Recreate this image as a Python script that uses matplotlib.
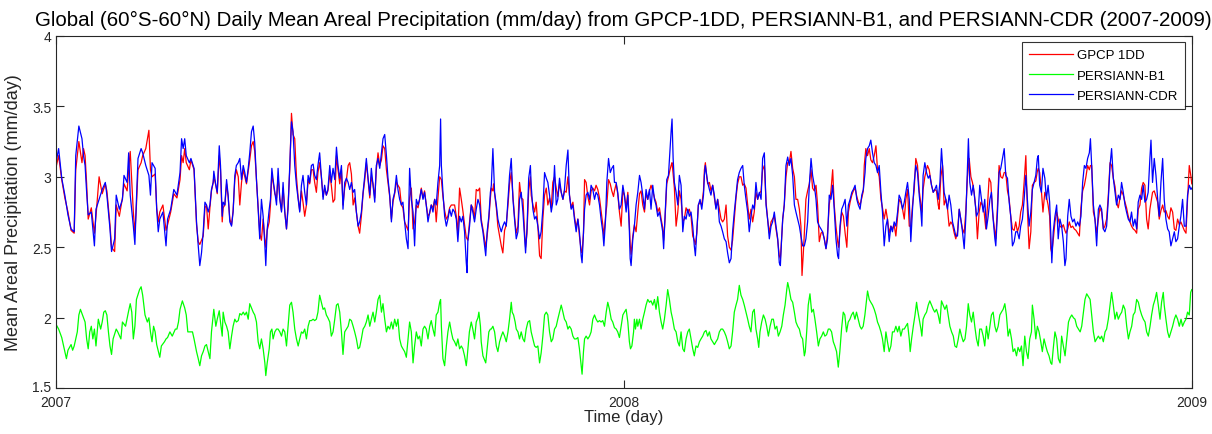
import matplotlib
matplotlib.use('Agg')
import matplotlib.pyplot as plt
import matplotlib.transforms as mtransforms

# ---------------- data (days since 2007-01-01, mm/day) ----------------
cdr_day = [0, 2, 4, 6, 8, 10, 12, 13, 15, 17, 18, 19, 20, 21, 23, 25, 26, 28, 30, 32, 33, 35, 36, 38, 39, 41, 43, 44, 46, 47, 48, 50, 51, 52, 53, 55, 56, 58, 60, 61, 62, 64, 65, 66, 67, 69, 71, 72, 74, 76, 78, 80, 81, 82, 83, 84, 86, 87, 89,
    90.6, 91.7, 92.7, 93.8, 94.9, 96, 97, 98.1, 99.2, 100.2, 101.3, 101.7, 103, 103.9, 105.2, 106, 107.1, 107.7, 108.8, 109.9, 110.9, 112, 113.1, 114.1, 115.2, 116.2, 117.4, 118.4, 119.5, 120.6, 121.6, 122.7, 123.8, 124.8, 125.9, 127, 128, 129.1, 130.2, 131.2, 132.3, 133.4, 134.5, 135.1, 136, 137.3, 138.1, 139, 139.8, 140.9, 142, 143, 144.1, 145.2, 146.2, 147.3, 148.4, 149.4, 150.5, 151.6, 152.6, 153.7, 154.8, 155.9, 156.9, 158, 159, 160.1, 161.2, 162.3, 163.3, 164.4, 165.5, 166.5, 167.6, 168.6, 169.7, 170.8, 171.9, 172.9, 174, 175, 176.2, 177.2, 178.3, 179.4,
    180.5, 181.5, 182.6, 183.7, 184.7, 185.8, 186.9, 188, 189, 190.1, 191.2, 192.2, 193.3, 194.4, 195.4, 196.5, 197.6, 198.7, 199.7, 200.8, 201.9, 202.9, 204, 205.1, 206.1, 207.2, 208.3, 209.4, 210.4, 211.5, 212.6, 213.6, 214.7, 215.8, 216.8, 217.9, 219, 220, 221.1, 222.2, 223.2, 224.3, 225.4, 226.5, 227, 227.5, 228.6, 229.7, 230.7, 231.8, 232.9, 233.9, 235, 236.1, 237.1, 238.2, 239.3, 240.4, 241.4, 242.5, 243.6, 244.6, 245.7, 246.8, 247.4, 247.9, 248.9, 250, 251.1, 252.1, 253.2, 254.3, 255.3, 256.4, 257.5, 258.5, 259.6, 260.7, 261.7, 262.8, 263.9, 264.4, 264.9, 266, 267.1, 268.1, 269.2,
    270.3, 271.4, 272.5, 273.5, 274.6, 275.7, 276.4, 277.3, 278.4, 279.4, 280, 281, 281.4, 282.1, 283.2, 284.2, 285.3, 286.4, 287.4, 288.5, 289.6, 290.7, 291.7, 292.8, 293.9, 294.9, 296, 297.1, 298.1, 299.2, 300.3, 301.3, 302, 302.9, 304, 305.1, 305.6, 306.7, 307.8, 308.8, 309.9, 311, 312, 313.1, 314.2, 315.3, 316.3, 317.4, 318.5, 319.5, 320.6, 321.7, 322.7, 323.8, 324.9, 326, 327, 328.1, 329.2, 330.2, 331.3, 332.4, 333.4, 334.5, 335.6, 336.6, 337.7, 338.3, 339.2, 339.9, 340.9, 342, 343.1, 344.1, 345.2, 346.3, 347.3, 348.4, 349.5, 350.5, 351.6, 352.3, 353.4, 354.2, 355.3, 356.4, 357.4, 358.5, 359.1,
    360.2, 361.2, 362.3, 363.4, 364.5, 365.5, 366.6, 367.7, 368.7, 369.2, 369.8, 370.9, 371.9, 373, 374.1, 375.2, 376.2, 377.3, 378.4, 379.4, 380.5, 381.6, 382.6, 383.7, 384.8, 385.8, 386.9, 388, 389.1, 390.1, 390.7, 391.6, 392.7, 393.8, 394.8, 395.5, 396.1, 396.8, 397.6, 398.7, 399.8, 400.8, 401.9, 403, 404, 405.1, 406.2, 407.2, 408.3, 409.4, 410.4, 411.1, 412, 413, 414.1, 415.2, 416.3, 416.9, 417.5, 418.4, 419, 420.1, 421.1, 422.2, 423.3, 424.3, 425.4, 426.5, 427.6, 428.6, 429.7, 430.8, 431.8, 432.9, 434, 435, 436.1, 437.2, 438.2, 439.3, 440.4, 441.5, 442.5, 443.6, 444.7, 445.7, 446.8, 447.9, 448.9,
    450, 451.1, 452.2, 453.3, 454.3, 455.4, 456.5, 457.5, 458.6, 459.7, 460.7, 461.8, 462.9, 464, 465, 465.7, 466.5, 467.2, 468.2, 469.3, 470.4, 471.4, 472.5, 473.6, 474.7, 475.7, 476.8, 477.9, 478.9, 480, 481.1, 482.1, 483.2, 484.3, 485.4, 486.4, 487.5, 488.6, 489.6, 490.7, 491.8, 492.8, 493.9, 495, 496, 497.1, 498.2, 499.3, 500.3, 501.4, 502.5, 503.1, 504, 505.1, 506.2, 507.3, 508.4, 509.4, 510.5, 511.6, 512.6, 513.7, 514.8, 515.8, 516.9, 518, 519, 520.1, 520.6, 521.7, 522.8, 523.8, 524.9, 526, 527.1, 528.1, 529.2, 530.3, 531.3, 532.4, 533.5, 534.5, 535.6, 536.7, 537.7, 538.8,
    539.9, 541, 542, 543.1, 544.2, 545.3, 546.3, 547.4, 548.5, 549.5, 550.6, 551.7, 552.7, 553.8, 554.9, 556, 556.6, 557.4, 558.5, 559.6, 560.7, 561.7, 562.8, 563.9, 564.9, 566, 567.1, 568.2, 569.2, 569.9, 570.9, 572, 573.1, 574.1, 575.2, 576.3, 577.4, 578.4, 579.5, 580.6, 581.6, 582.7, 583.8, 584.8, 585.9, 586.5, 587.4, 588.5, 589.6, 590.6, 591.7, 592.8, 593.8, 594.9, 596, 597, 598.1, 599.2, 600.3, 601.3, 602.4, 603.5, 604.1, 605.2, 606.2, 607.3, 608.4, 609.5, 610.5, 611.6, 612.7, 613.7, 614.8, 615.9, 616.9, 618, 619.1, 620.1, 621.2, 622.3, 623.4, 624.4, 625.5, 626.6, 627.6, 628.7,
    629.8, 630.8, 631.4, 632.3, 633.4, 634.4, 635.6, 636.6, 637.7, 638.7, 639.4, 640.1, 641, 642.1, 643.2, 644.2, 645.3, 646.4, 647.5, 648.5, 649.2, 650.3, 651.3, 652.4, 653.5, 654.5, 655.6, 656.7, 657.8, 658.8, 659.9, 661, 662, 663.1, 664.2, 664.9, 665.7, 666.8, 667.8, 668.9, 670, 671, 672.1, 673.2, 674.2, 675.3, 676.4, 677.5, 678.5, 679.6, 680.7, 681.7, 682.8, 683.9, 684.9, 686, 687.1, 688.1, 689.2, 690.3, 691.3, 692.4, 693.5, 694.6, 695.6, 696.7, 697.8, 698.8, 699.9, 701, 702, 703.1, 703.8, 704.8, 705.9, 707, 708.1, 709.1, 710.2, 711.3, 712.3, 713.4, 714.5, 715.5, 716.6, 717.7, 718.8, 719.8, 720.9, 722, 723, 724.1, 725.2, 726.3, 727.3, 728.4, 729.5, 730]
cdr_val = [3.08, 3.20, 2.99, 2.87, 2.73, 2.63, 2.61, 3.15, 3.36, 3.27, 3.15, 3.08, 2.89, 2.73, 2.75, 2.51, 2.77, 2.84, 2.91, 2.96, 2.87, 2.63, 2.47, 2.56, 2.87, 2.77, 2.84, 3.01, 2.96, 3.17, 2.87, 2.65, 2.52, 2.84, 3.13, 3.20, 3.17, 3.08, 3.01, 2.87, 3.10, 3.06, 2.77, 2.61, 2.70, 2.75, 2.51, 2.70, 2.77, 2.91, 2.87, 3.03, 3.27, 3.20, 3.27, 3.15, 3.10, 3.13, 3.06,
    2.68, 2.51, 2.37, 2.46, 2.61, 2.82, 2.80, 2.75, 2.80, 2.91, 2.96, 3.04, 2.94, 2.89, 3.22, 3.08, 2.72, 2.82, 2.80, 2.98, 2.87, 2.68, 2.65, 2.75, 3.01, 3.08, 3.10, 3.13, 2.98, 3.08, 3.03, 2.96, 3.06, 3.17, 3.32, 3.36, 3.24, 2.98, 2.77, 2.56, 2.84, 2.72, 2.51, 2.37, 2.63, 2.77, 2.84, 3.06, 2.98, 2.89, 2.80, 3.06, 2.84, 2.75, 2.96, 2.75, 2.63, 2.77, 3.08, 3.39, 3.32, 3.08, 2.94, 2.84, 2.75, 2.94, 3.01, 2.89, 2.80, 3.01, 2.96, 3.08, 3.09, 3.01, 2.98, 3.08, 3.17, 3.01, 2.84, 2.94, 2.87, 2.91, 3.08, 2.96, 3.06, 2.98,
    3.21, 3.08, 2.99, 3.08, 2.77, 2.96, 2.99, 2.96, 2.91, 2.96, 2.89, 2.91, 2.75, 2.65, 2.68, 2.75, 2.89, 3.01, 3.13, 2.99, 2.87, 3.06, 2.94, 2.82, 3.08, 3.13, 3.06, 3.17, 3.27, 3.30, 3.15, 2.99, 2.87, 2.68, 2.84, 2.89, 3.01, 2.91, 2.84, 2.80, 2.82, 2.68, 2.56, 2.49, 2.80, 3.06, 2.84, 2.75, 2.51, 2.84, 2.80, 2.84, 2.91, 2.84, 2.89, 2.80, 2.68, 2.75, 2.80, 2.75, 2.84, 2.80, 2.96, 3.08, 3.41, 3.08, 2.89, 2.72, 2.65, 2.70, 2.77, 2.72, 2.77, 2.75, 2.70, 2.54, 2.72, 2.68, 2.72, 2.61, 2.39, 2.32, 2.54, 2.65, 2.80, 2.75, 2.68,
    2.77, 2.84, 2.80, 2.68, 2.61, 2.51, 2.44, 2.61, 2.72, 2.89, 2.94, 3.20, 3.08, 2.89, 2.80, 2.70, 2.65, 2.61, 2.65, 2.68, 2.65, 2.84, 3.01, 3.13, 2.84, 2.70, 2.56, 2.61, 2.84, 2.89, 2.75, 2.58, 2.46, 2.63, 2.99, 3.08, 2.94, 2.77, 2.70, 2.72, 2.65, 2.56, 2.61, 2.77, 3.03, 2.99, 2.96, 2.87, 2.75, 2.82, 3.08, 2.80, 2.84, 2.99, 2.89, 2.84, 2.91, 3.08, 3.19, 2.87, 2.77, 2.80, 2.70, 2.61, 2.70, 2.61, 2.44, 2.39, 2.61, 2.77, 2.87, 2.89, 2.84, 2.94, 2.91, 2.84, 2.89, 2.87, 2.80, 2.70, 2.61, 2.51, 2.70, 2.96, 3.13, 3.03, 3.06, 3.08, 2.96,
    2.96, 2.89, 2.77, 2.80, 2.94, 2.87, 2.75, 2.87, 2.61, 2.42, 2.37, 2.56, 2.65, 2.80, 2.89, 3.01, 2.96, 2.87, 2.77, 2.91, 2.84, 2.91, 2.77, 2.94, 2.84, 2.80, 2.72, 2.75, 2.68, 2.61, 2.49, 2.72, 2.98, 3.01, 3.20, 3.32, 3.41, 3.13, 2.96, 2.89, 2.80, 3.01, 2.94, 2.61, 2.72, 2.70, 2.77, 2.72, 2.75, 2.65, 2.51, 2.44, 2.61, 2.80, 2.84, 2.77, 2.87, 3.01, 3.08, 3.01, 2.96, 2.91, 2.87, 2.94, 2.87, 2.77, 2.84, 2.68, 2.65, 2.61, 2.56, 2.54, 2.46, 2.39, 2.42, 2.61, 2.75, 2.87, 2.98, 3.03, 3.06, 3.08, 2.94, 2.84, 2.75, 2.61, 2.72, 2.80, 2.77,
    2.96, 2.84, 2.89, 2.84, 3.13, 3.17, 2.80, 2.70, 2.56, 2.65, 2.68, 2.75, 2.65, 2.56, 2.39, 2.37, 2.56, 2.70, 2.80, 3.08, 3.14, 3.08, 3.13, 3.01, 2.80, 2.75, 2.70, 2.65, 2.58, 2.51, 2.51, 2.56, 2.68, 2.94, 3.13, 3.01, 2.94, 2.84, 2.68, 2.65, 2.63, 2.61, 2.56, 2.49, 2.56, 2.87, 2.84, 2.94, 2.77, 2.56, 2.44, 2.42, 2.65, 2.77, 2.80, 2.84, 2.65, 2.80, 2.84, 2.89, 2.91, 2.94, 2.84, 2.80, 2.77, 2.87, 2.91, 3.03, 3.13, 3.20, 3.22, 3.26, 3.17, 3.10, 3.08, 3.03, 3.08, 2.89, 2.75, 2.51, 2.65, 2.70, 2.54, 2.65, 2.61, 2.68,
    2.65, 2.75, 2.87, 2.84, 2.77, 2.82, 2.89, 2.96, 2.84, 2.54, 2.77, 2.96, 3.08, 3.03, 2.87, 2.75, 2.65, 3.01, 3.10, 3.03, 2.99, 3.01, 2.94, 2.89, 2.91, 2.94, 2.84, 2.96, 3.20, 3.08, 2.89, 2.84, 2.77, 2.87, 2.80, 2.68, 2.63, 2.58, 2.58, 2.77, 2.70, 2.61, 2.49, 2.70, 3.08, 3.27, 2.96, 2.87, 2.94, 2.84, 2.72, 2.75, 2.94, 2.84, 2.75, 2.84, 2.63, 2.72, 2.84, 2.89, 2.70, 2.56, 2.51, 2.75, 3.03, 3.06, 3.13, 3.20, 3.01, 2.99, 2.82, 2.72, 2.51, 2.54, 2.61, 2.61, 2.56, 2.65, 2.70, 2.84, 3.01, 2.84, 2.65, 2.75, 2.91, 2.96,
    3.01, 3.13, 3.15, 2.94, 2.89, 3.06, 2.99, 2.84, 2.94, 2.82, 2.61, 2.39, 2.61, 2.72, 2.80, 2.56, 2.70, 2.65, 2.54, 2.37, 2.42, 2.72, 2.84, 2.72, 2.68, 2.70, 2.65, 2.68, 2.65, 2.72, 2.96, 3.08, 3.06, 3.13, 3.17, 3.27, 3.08, 2.80, 2.70, 2.51, 2.77, 2.80, 2.77, 2.63, 2.61, 2.65, 2.84, 3.08, 3.20, 2.99, 2.89, 2.80, 2.87, 2.84, 2.96, 2.89, 2.80, 2.75, 2.70, 2.68, 2.75, 2.65, 2.70, 2.63, 2.82, 2.87, 2.84, 2.94, 2.82, 2.84, 2.89, 3.13, 3.26, 2.96, 3.13, 3.01, 2.84, 2.72, 2.96, 3.13, 2.84, 2.70, 2.63, 2.61, 2.51, 2.56, 2.61, 2.54, 2.56, 2.65, 2.72, 2.84, 2.65, 2.65, 2.87, 2.94, 2.91, 2.92]

gpcp_day = [0, 2, 4, 6, 8, 10, 12, 13, 15, 17, 18, 19, 20, 21, 23, 25, 26, 28, 30, 32, 33, 35, 36, 38, 39, 41, 43, 44, 46, 47, 48, 50, 51, 52, 53, 55, 56, 58, 60, 61, 62, 64, 65, 66, 67, 69, 71, 72, 74, 76, 78, 80, 81, 82, 83, 84, 86, 87, 89,
    90.6, 91.7, 92.7, 93.8, 94.9, 96, 97, 98.1, 99.2, 100.2, 101.3, 101.7, 103, 103.9, 105.2, 106, 107.1, 107.7, 108.8, 109.9, 110.9, 112, 113.1, 114.1, 115.2, 116.2, 117.4, 118.4, 119.5, 120.6, 121.6, 122.7, 123.8, 124.8, 125.9, 127, 128, 129.1, 130.2, 131.2, 132.3, 133.4, 134.5, 135.1, 136, 137.3, 138.1, 139, 139.8, 140.9, 142, 143, 144.1, 145.2, 146.2, 147.3, 148.4, 149.4, 150.5, 151.6, 152.6, 153.7, 154.8, 155.9, 156.9, 158, 159, 160.1, 161.2, 162.3, 163.3, 164.4, 165.5, 166.5, 167.6, 168.6, 169.7, 170.8, 171.9, 172.9, 174, 175, 176.2, 177.2, 178.3, 179.4,
    180.5, 181.5, 182.6, 183.7, 184.7, 185.8, 186.9, 188, 189, 190.1, 191.2, 192.2, 193.3, 194.4, 195.4, 196.5, 197.6, 198.7, 199.7, 200.8, 201.9, 202.9, 204, 205.1, 206.1, 207.2, 208.3, 209.4, 210.4, 211.5, 212.6, 213.6, 214.7, 215.8, 216.8, 217.9, 219, 220, 221.1, 222.2, 223.2, 224.3, 225.4, 226.5, 227.5, 228.6, 229.7, 230.7, 231.8, 232.9, 233.9, 235, 236.1, 237.1, 238.2, 239.3, 240.4, 241.4, 242.5, 243.6, 244.6, 245.7, 246.8, 247.9, 248.9, 250, 251.1, 252.1, 253.2, 254.3, 255.3, 256.4, 257.5, 258.5, 259.6, 260.7, 261.7, 262.8, 263.9, 264.9, 266, 267.1, 268.1, 269.2,
    270.3, 271.4, 272.5, 273.5, 274.6, 275.7, 276.4, 277.3, 278.4, 279.4, 280, 281, 281.4, 282.1, 283.2, 284.2, 285.3, 286.4, 287.4, 288.5, 289.6, 290.7, 291.7, 292.8, 293.9, 294.9, 296, 297.1, 298.1, 299.2, 300.3, 301.3, 302, 302.9, 304, 305.1, 305.6, 306.7, 307.8, 308.8, 309.9, 311, 312, 313.1, 314.2, 315.3, 316.3, 317.4, 318.5, 319.5, 320.6, 321.7, 322.7, 323.8, 324.9, 326, 327, 328.1, 329.2, 330.2, 331.3, 332.4, 333.4, 334.5, 335.6, 336.6, 337.7, 338.3, 339.2, 339.9, 340.9, 342, 343.1, 344.1, 345.2, 346.3, 347.3, 348.4, 349.5, 350.5, 351.6, 352.3, 353.4, 354.2, 355.3, 356.4, 357.4, 358.5, 359.1,
    360.2, 361.2, 362.3, 363.4, 364.5, 365.5, 366.6, 367.7, 368.7, 369.2, 369.8, 370.9, 371.9, 373, 374.1, 375.2, 376.2, 377.3, 378.4, 379.4, 380.5, 381.6, 382.6, 383.7, 384.8, 385.8, 386.9, 388, 389.1, 390.1, 390.7, 391.6, 392.7, 393.8, 394.8, 395.5, 396.1, 396.8, 397.6, 398.7, 399.8, 400.8, 401.9, 403, 404, 405.1, 406.2, 407.2, 408.3, 409.4, 410.4, 411.1, 412, 413, 414.1, 415.2, 416.3, 416.9, 417.5, 418.4, 419, 420.1, 421.1, 422.2, 423.3, 424.3, 425.4, 426.5, 427.6, 428.6, 429.7, 430.8, 431.8, 432.9, 434, 435, 436.1, 437.2, 438.2, 439.3, 440.4, 441.5, 442.5, 443.6, 444.7, 445.7, 446.8, 447.9, 448.9,
    450, 451.1, 452.2, 453.3, 454.3, 455.4, 456.5, 457.5, 458.6, 459.7, 460.7, 461.8, 462.9, 464, 465, 465.7, 466.5, 467.2, 468.2, 469.3, 470.4, 471.4, 472.5, 473.6, 474.7, 475.7, 476.8, 477.9, 478.9, 479.6, 480.4, 481.1, 482.1, 483.2, 484.3, 485.4, 486.4, 487.5, 488.6, 489.6, 490.7, 491.8, 492.8, 493.9, 495, 496, 497.1, 498.2, 499.3, 500.3, 501.4, 502.5, 503.1, 504, 505.1, 506.2, 507.3, 508.4, 509.4, 510.5, 511.6, 512.6, 513.7, 514.8, 515.8, 516.9, 518, 519, 519.6, 520.6, 521.7, 522.8, 523.8, 524.9, 526, 527.1, 528.1, 529.2, 530.3, 531.3, 532.4, 533.5, 534.5, 535.6, 536.7, 537.7, 538.8,
    539.9, 541, 542, 543.1, 544.2, 545.3, 546.3, 547.4, 548.5, 549.5, 550.6, 551.7, 552.7, 553.8, 554.9, 556, 556.6, 557.4, 558.5, 559.6, 560.2, 561.3, 562.8, 563.9, 564.9, 566, 567.1, 567.7, 568.8, 569.9, 570.9, 572, 573.1, 574.1, 575.2, 576.3, 577.4, 578.4, 579.5, 580.6, 581.6, 582.7, 583.8, 584.8, 585.9, 587, 588.1, 589.1, 590.2, 591.3, 592.3, 593.4, 594.5, 595.5, 596.6, 597.7, 598.8, 599.8, 600.9, 602, 603, 604.1, 605.2, 606.2, 607.3, 608.4, 609.5, 610.5, 611.6, 612.7, 613.7, 614.8, 615.9, 616.9, 618, 619.1, 620.1, 621.2, 622.3, 623.4, 624.4, 625.5, 626.6, 627.6, 628.7,
    629.8, 630.8, 631.4, 632.3, 633.4, 634.4, 635.6, 636.6, 637.7, 638.7, 639.4, 640.1, 641, 642.1, 643.2, 644.2, 645.3, 646.4, 647.5, 648.5, 649.2, 650.3, 651.3, 652.4, 653.5, 654.5, 655.6, 656.7, 657.8, 658.8, 659.9, 661, 662, 663.1, 664.2, 664.9, 665.7, 666.8, 667.8, 668.9, 670, 671, 672.1, 673.2, 674.2, 675.3, 676.4, 677.5, 678.5, 679.6, 680.7, 681.7, 682.8, 683.9, 684.9, 686, 687.1, 688.1, 689.2, 690.3, 691.3, 692.4, 693.5, 694.6, 695.6, 696.7, 697.8, 698.8, 699.9, 701, 702, 703.1, 703.8, 704.8, 705.9, 707, 708.1, 709.1, 710.2, 711.3, 712.3, 713.4, 714.5, 715.5, 716.6, 717.7, 718.8, 719.8, 720.9, 722, 723, 724.1, 725.2, 726.3, 727.3, 728.4, 729.5, 730]
gpcp_val = [3.05, 3.15, 2.98, 2.85, 2.75, 2.62, 2.60, 3.05, 3.25, 3.10, 3.20, 3.15, 2.95, 2.70, 2.78, 2.60, 2.72, 3.00, 2.88, 2.95, 2.90, 2.66, 2.50, 2.47, 2.80, 2.72, 2.85, 2.95, 2.90, 3.05, 3.18, 2.75, 2.60, 2.80, 3.05, 3.10, 3.15, 3.20, 3.33, 3.05, 3.00, 3.02, 2.78, 2.68, 2.75, 2.80, 2.62, 2.66, 2.75, 2.88, 2.85, 2.98, 3.15, 3.10, 3.20, 3.10, 3.05, 3.12, 3.05,
    2.66, 2.54, 2.52, 2.55, 2.58, 2.78, 2.80, 2.63, 2.78, 2.90, 2.96, 3.00, 2.94, 2.88, 3.15, 3.05, 2.68, 2.78, 2.80, 2.95, 2.86, 2.70, 2.66, 2.76, 2.98, 3.05, 3.00, 2.80, 2.96, 3.05, 3.00, 2.95, 3.04, 3.12, 3.22, 3.25, 3.18, 2.98, 2.78, 2.60, 2.55, 2.70, 2.56, 2.50, 2.62, 2.68, 2.80, 3.02, 2.96, 2.88, 2.85, 3.00, 2.85, 2.76, 2.92, 2.75, 2.63, 2.80, 3.05, 3.45, 3.30, 3.27, 3.00, 2.85, 2.76, 2.90, 2.82, 2.72, 2.80, 2.98, 2.95, 3.05, 3.05, 2.96, 2.89, 3.03, 3.10, 3.00, 2.86, 2.92, 2.87, 2.90, 3.02, 2.94, 2.82, 2.84,
    3.15, 3.05, 2.95, 3.05, 2.80, 2.92, 2.98, 3.08, 3.10, 3.02, 2.80, 2.85, 2.75, 2.65, 2.60, 2.72, 2.88, 2.98, 3.10, 2.98, 2.85, 3.00, 2.95, 2.85, 3.05, 3.17, 3.08, 3.12, 3.22, 3.20, 3.05, 2.96, 2.86, 2.70, 2.82, 2.88, 2.96, 2.94, 2.92, 2.80, 2.78, 2.68, 2.65, 2.62, 2.85, 2.92, 2.63, 2.68, 2.80, 2.78, 2.84, 2.92, 2.85, 2.90, 2.80, 2.72, 2.74, 2.80, 2.78, 2.84, 2.68, 2.85, 3.00, 2.98, 2.86, 2.76, 2.70, 2.72, 2.78, 2.80, 2.80, 2.80, 2.72, 2.60, 2.92, 2.84, 2.76, 2.66, 2.57, 2.55, 2.68, 2.80, 2.78, 2.70,
    2.91, 2.90, 2.92, 2.70, 2.63, 2.55, 2.50, 2.58, 2.70, 2.85, 2.92, 2.90, 2.95, 2.88, 2.78, 2.65, 2.58, 2.51, 2.46, 2.62, 2.66, 2.80, 2.95, 3.03, 2.86, 2.72, 2.60, 2.65, 2.96, 2.85, 2.84, 2.62, 2.50, 2.60, 2.90, 3.00, 2.87, 2.80, 2.75, 2.82, 2.65, 2.44, 2.42, 2.70, 2.87, 2.92, 2.80, 2.85, 2.78, 2.96, 3.00, 2.92, 2.86, 2.95, 2.89, 2.84, 2.90, 2.89, 3.00, 2.87, 2.78, 2.82, 2.72, 2.64, 2.70, 2.58, 2.48, 2.46, 2.60, 2.98, 2.96, 2.86, 2.80, 2.90, 2.92, 2.90, 2.94, 2.91, 2.85, 2.76, 2.66, 2.58, 2.72, 2.80, 2.98, 2.95, 2.90, 2.86, 2.90,
    2.95, 2.88, 2.75, 2.65, 2.90, 2.87, 2.78, 2.89, 2.66, 2.52, 2.45, 2.58, 2.66, 2.61, 2.75, 2.88, 2.90, 2.80, 2.75, 2.88, 2.84, 2.90, 2.94, 2.90, 2.85, 2.82, 2.75, 2.78, 2.70, 2.64, 2.55, 2.70, 2.95, 3.00, 3.05, 3.08, 3.10, 3.02, 2.92, 2.65, 2.75, 2.90, 2.84, 2.68, 2.70, 2.78, 2.75, 2.77, 2.72, 2.58, 2.55, 2.52, 2.60, 2.80, 2.82, 2.80, 2.90, 3.05, 3.10, 3.00, 2.95, 2.96, 2.90, 2.94, 2.85, 2.78, 2.84, 2.77, 2.70, 2.68, 2.70, 2.80, 2.58, 2.50, 2.48, 2.55, 2.70, 2.85, 2.95, 3.00, 3.00, 2.94, 2.95, 2.92, 2.80, 2.70, 2.77, 2.68, 2.75,
    2.89, 2.84, 2.88, 2.90, 3.05, 3.08, 2.82, 2.70, 2.60, 2.68, 2.70, 2.72, 2.63, 2.55, 2.44, 2.42, 2.56, 2.70, 2.80, 3.00, 3.10, 3.10, 3.18, 3.06, 3.00, 2.84, 2.84, 2.77, 2.65, 2.30, 2.45, 2.60, 2.84, 2.90, 2.95, 3.05, 2.92, 2.90, 2.94, 2.80, 2.54, 2.60, 2.61, 2.56, 2.49, 2.60, 2.80, 2.90, 3.05, 2.80, 2.65, 2.54, 2.50, 2.62, 2.75, 2.72, 2.60, 2.50, 2.75, 2.82, 2.87, 2.90, 2.92, 2.86, 2.82, 2.80, 2.85, 2.90, 3.08, 3.20, 3.15, 3.20, 3.12, 3.10, 3.15, 3.22, 3.05, 3.00, 2.84, 2.78, 2.70, 2.77, 2.70, 2.60, 2.65, 2.63, 2.66,
    2.58, 2.72, 2.84, 2.82, 2.77, 2.70, 2.84, 2.91, 2.65, 2.65, 2.80, 2.91, 3.13, 3.08, 2.90, 2.80, 2.75, 2.91, 3.00, 3.05, 3.08, 3.05, 2.94, 2.89, 2.91, 2.90, 2.80, 2.77, 3.00, 3.08, 2.80, 2.84, 2.77, 2.65, 2.68, 2.66, 2.60, 2.56, 2.61, 2.77, 2.70, 2.63, 2.60, 2.75, 3.00, 3.13, 3.00, 2.96, 2.89, 2.77, 2.56, 2.75, 2.82, 2.80, 2.75, 2.63, 2.80, 2.99, 2.96, 2.75, 2.65, 2.56, 2.80, 3.08, 3.00, 2.99, 3.03, 3.03, 2.90, 2.84, 2.72, 2.63, 2.62, 2.68, 2.61, 2.65, 2.75, 2.80, 2.96, 3.15, 2.77, 2.49, 2.61, 2.94, 2.96,
    2.97, 3.04, 3.06, 3.03, 2.90, 2.75, 2.89, 2.86, 2.80, 2.72, 2.49, 2.46, 2.55, 2.68, 2.75, 2.70, 2.65, 2.64, 2.66, 2.62, 2.60, 2.63, 2.68, 2.64, 2.65, 2.63, 2.62, 2.60, 2.58, 2.78, 2.90, 2.94, 3.00, 3.08, 3.05, 3.08, 3.08, 2.75, 2.70, 2.60, 2.70, 2.78, 2.75, 2.63, 2.65, 2.70, 2.87, 3.10, 3.08, 2.99, 2.93, 2.82, 2.78, 2.85, 2.90, 2.87, 2.82, 2.78, 2.72, 2.68, 2.65, 2.63, 2.62, 2.60, 2.77, 2.80, 2.92, 2.96, 2.94, 2.70, 2.63, 2.77, 2.82, 2.89, 2.90, 2.86, 2.82, 2.70, 2.76, 2.80, 2.75, 2.76, 2.72, 2.70, 2.78, 2.75, 2.63, 2.62, 2.70, 2.66, 2.68, 2.65, 2.62, 2.60, 2.84, 3.08, 3.00, 2.95]

b1_day = [0, 2, 4, 6, 7, 8, 10, 11, 12, 14, 15, 16, 18, 19, 20, 21, 22, 23, 24, 25, 26, 27.5, 29, 30, 31, 32, 33, 34, 35, 36, 37, 39, 40, 42, 43, 45, 47, 48, 49, 50, 51, 52, 54, 55, 56, 57.5, 59, 60, 61, 62, 63, 64, 65, 67, 68, 70, 71, 72, 73.5, 75, 77, 78, 79, 80, 81.5, 83, 84, 85, 86, 88, 89,
    90.6, 91.7, 92.7, 93.8, 94.9, 96, 97, 98.1, 99.2, 100.2, 101.3, 101.7, 103, 103.9, 105.2, 106, 107.1, 107.7, 108.8, 109.9, 110.9, 112, 113.1, 114.1, 115.2, 116.2, 117.4, 118.4, 119.5, 120.6, 121.6, 122.7, 123.8, 124.8, 125.9, 127, 128, 129.1, 130.2, 131.2, 132.3, 133.4, 134.5, 135.1, 136, 137.3, 138.1, 139, 139.8, 140.9, 142, 143, 144.1, 145.2, 146.2, 147.3, 148.4, 149.4, 150.5, 151.6, 152.6, 153.7, 154.8, 155.9, 156.9, 158, 159, 160.1, 161.2, 162.3, 163.3, 164.4, 165.5, 166.5, 167.6, 168.6, 169.7, 170.8, 171.9, 172.9, 174, 175, 176.2, 177.2, 178.3, 179.4,
    180.5, 181.5, 182.6, 183.7, 184.7, 185.8, 186.9, 188, 189, 190.1, 191.2, 192.2, 193.3, 194.4, 195.4, 196.5, 197.6, 198.7, 199.7, 200.8, 201.9, 202.9, 204, 205.1, 206.1, 207.2, 208.3, 209.4, 210.4, 211.5, 212.6, 213.6, 214.7, 215.8, 216.8, 217.9, 219, 220, 221.1, 222.2, 223.2, 224.3, 225.4, 226.5, 227.5, 228.6, 229.7, 230.7, 231.8, 232.9, 233.9, 235, 236.1, 237.1, 238.2, 239.3, 240.4, 241.4, 242.5, 243.6, 244.6, 245.7, 246.8, 247.4, 247.9, 248.9, 250, 251.1, 252.1, 253.2, 254.3, 255.3, 256.4, 257.5, 258.5, 259.6, 260.7, 261.7, 262.8, 263.9, 264.4, 265.9, 267.1, 268.1, 269.2,
    270.3, 271.4, 272, 273, 273.5, 274.6, 275.7, 276.4, 277.3, 278.4, 279.4, 280, 281, 282.1, 283.2, 284.2, 285.3, 286.4, 287.4, 288.5, 289.6, 290.7, 291.7, 292.8, 293.4, 294.3, 295.3, 296, 297.1, 298.1, 299.2, 300.3, 301.3, 302.4, 303.5, 304.6, 305.6, 306.7, 307.8, 308.8, 309.9, 311, 312, 313.1, 314.2, 315.3, 316.3, 317.4, 318.5, 319.5, 320.6, 321.7, 322.7, 323.8, 324.9, 326, 327, 328.1, 329.2, 330.2, 331.3, 332.4, 333.4, 334.5, 335.6, 336.6, 337.7, 338.3, 339.2, 339.9, 340.9, 342, 343.1, 344.1, 345.2, 346.3, 347.3, 348.4, 349.5, 350.5, 351.6, 352.7, 353.8, 354.8, 355.9, 357, 358, 359.1,
    360.2, 361.2, 362.3, 363.4, 364.5, 365.5, 366.6, 367.7, 368.7, 369.4, 370.3, 371.4, 371.9, 372.6, 373.5, 374.1, 375.2, 376.2, 377.3, 378.4, 379.4, 380.5, 381.6, 382.6, 383.7, 384.8, 385.8, 386.9, 388, 389.1, 390.1, 391.2, 392.3, 393.3, 394.4, 395.5, 396.5, 397.6, 398.7, 399.8, 400.8, 401.9, 403, 404, 405.1, 406.2, 407.2, 408.3, 409.4, 410.4, 411.5, 412.6, 413.7, 414.7, 415.8, 416.9, 417.9, 419, 420.1, 421.1, 422.2, 423.3, 424.3, 425.4, 426.5, 427.6, 428.6, 429.7, 430.8, 431.8, 432.9, 434, 435, 436.1, 437.2, 438.2, 439.3, 440.4, 441.5, 442.5, 443.6, 444.7, 445.7, 446.8, 447.9, 448.9,
    450, 451.1, 451.8, 452.6, 453.7, 454.8, 455.9, 456.9, 458, 459.1, 460.2, 461.2, 462.3, 463.4, 464.4, 465.5, 466.6, 467.6, 468.7, 469.8, 470.4, 471.4, 472.5, 473.6, 474.7, 475.7, 476.8, 477.9, 478.9, 480, 481.1, 481.7, 482.6, 483.6, 484.7, 485.8, 486.9, 487.9, 489, 490.1, 491.1, 492.2, 493.3, 494.3, 495.4, 496.5, 497.5, 498.6, 499.7, 500.7, 501.8, 502.9, 503.9, 505, 506.1, 507.1, 508.2, 509.3, 510.4, 511.4, 512.5, 513.6, 514.6, 515.7, 516.8, 517.8, 518.9, 520, 521.1, 521.7, 522.8, 523.8, 524.9, 526, 527.1, 528.1, 529.2, 530.3, 531.3, 532.4, 533.5, 534.5, 535.6, 536.7, 537.7, 538.8,
    539.9, 541, 542, 543.1, 544.2, 545.3, 546.3, 547.4, 548.5, 549.1, 550, 551.1, 552.2, 553.2, 553.8, 554.9, 556, 556.6, 557.4, 558.5, 559.6, 560.7, 561.7, 562.8, 563.9, 564.9, 566, 567.1, 568.2, 569.2, 570.3, 571.4, 572.5, 573.5, 574.6, 575.7, 576.8, 577.8, 578.9, 580, 581, 582.1, 583.2, 584.3, 585.3, 586.4, 587.4, 588.5, 589.6, 590.6, 591.7, 592.8, 593.8, 594.9, 596, 597, 598.1, 599.2, 600.3, 601.3, 602.4, 603.5, 604.5, 605.6, 606.7, 607.7, 608.8, 609.9, 610.9, 612, 613.1, 614.2, 615.2, 616.3, 617.4, 618.4, 619.5, 620.6, 621.6, 622.7, 623.8, 624.8, 625.9, 627, 627.6, 628.7,
    629.8, 630.8, 631.9, 633, 634, 635.1, 636.2, 637.2, 638.3, 639.4, 640.1, 641, 642.1, 643.2, 644.3, 645.4, 646.4, 647.5, 648.6, 649.7, 650.8, 651.8, 652.9, 654, 655, 656.1, 657.2, 658.3, 659.3, 660.4, 661.4, 662.5, 663.6, 664.7, 665.7, 666.8, 667.9, 668.9, 670, 671.1, 672.1, 673.2, 674.3, 675.3, 676.4, 677.5, 678.5, 679.6, 680.7, 681.8, 682.8, 683.9, 685, 686, 687.1, 688.2, 689.3, 690.3, 691.4, 692.4, 693.5, 694.6, 695.7, 696.7, 697.8, 698.9, 700, 701, 702.1, 703.2, 704.2, 705.3, 706.4, 707.4, 708.5, 709.6, 710.6, 711.7, 712.3, 713.4, 714.5, 715.5, 716.6, 717.7, 718.8, 719.8, 720.9, 722, 723.1, 724.1, 725.2, 726.3, 727.3, 728.4, 729.3, 730]
b1_val = [1.96, 1.92, 1.86, 1.76, 1.71, 1.77, 1.81, 1.77, 1.80, 1.90, 2.02, 2.06, 2.00, 1.97, 1.85, 1.78, 1.90, 1.94, 1.85, 1.92, 1.80, 1.99, 1.92, 1.97, 2.04, 2.05, 2.02, 1.90, 1.80, 1.74, 1.85, 1.92, 1.90, 1.85, 1.97, 1.94, 2.05, 2.10, 2.04, 1.85, 1.94, 2.13, 2.20, 2.22, 2.16, 2.02, 1.97, 2.00, 1.90, 1.83, 1.94, 1.90, 1.81, 1.72, 1.80, 1.83, 1.85, 1.86, 1.90, 1.87, 1.92, 1.92, 1.97, 2.06, 2.12, 2.07, 2.02, 1.90, 1.90, 1.90, 1.85,
    1.76, 1.71, 1.66, 1.73, 1.76, 1.80, 1.81, 1.76, 1.71, 1.90, 2.02, 2.06, 1.94, 1.99, 2.05, 1.97, 1.87, 2.04, 1.97, 1.94, 1.90, 1.78, 1.87, 1.94, 1.99, 1.97, 1.98, 2.03, 2.02, 2.04, 2.02, 2.04, 1.99, 2.10, 2.07, 2.04, 2.02, 1.97, 1.83, 1.78, 1.85, 1.78, 1.68, 1.59, 1.68, 1.78, 1.90, 1.92, 1.85, 1.90, 1.92, 1.92, 1.90, 1.87, 1.92, 1.90, 1.80, 1.94, 2.09, 2.11, 2.04, 1.92, 1.85, 1.80, 1.85, 1.90, 1.89, 1.92, 1.85, 1.94, 1.98, 1.98, 1.99, 1.98, 1.99, 2.04, 2.16, 2.11, 2.06, 2.07, 2.02, 2.00, 1.97, 1.87, 1.90, 1.99,
    2.09, 2.10, 2.04, 1.90, 1.74, 1.90, 1.92, 1.94, 1.99, 1.98, 1.94, 1.90, 1.85, 1.78, 1.79, 1.85, 1.92, 1.94, 1.97, 2.02, 1.94, 1.99, 2.04, 1.97, 2.04, 2.13, 2.16, 2.04, 2.10, 1.99, 1.90, 1.94, 1.92, 1.97, 1.92, 1.99, 1.94, 1.99, 1.85, 1.80, 1.78, 1.76, 1.72, 1.85, 1.97, 1.90, 1.68, 1.80, 1.90, 1.85, 1.87, 1.80, 1.92, 1.94, 1.92, 1.85, 1.94, 1.98, 1.92, 1.87, 2.02, 2.04, 2.11, 2.13, 1.94, 1.71, 1.66, 1.80, 1.90, 1.97, 1.90, 1.85, 1.83, 1.80, 1.85, 1.78, 1.80, 1.78, 1.73, 1.66, 1.71, 1.90, 1.97, 1.92, 1.85,
    1.97, 2.00, 2.04, 1.94, 1.83, 1.73, 1.70, 1.68, 1.78, 1.90, 1.92, 1.92, 1.94, 1.90, 1.80, 1.76, 1.83, 1.87, 1.90, 1.87, 1.83, 1.90, 1.99, 2.11, 2.04, 2.02, 1.97, 1.92, 1.90, 1.85, 1.90, 1.85, 1.83, 1.92, 1.97, 1.98, 1.90, 1.85, 1.80, 1.79, 1.80, 1.68, 1.75, 1.87, 2.02, 2.04, 2.02, 1.90, 1.83, 1.85, 1.92, 1.94, 1.99, 2.04, 2.09, 2.04, 1.99, 1.97, 1.92, 1.94, 1.92, 1.87, 1.85, 1.85, 1.86, 1.78, 1.66, 1.60, 1.76, 1.85, 1.87, 1.85, 1.87, 1.90, 1.99, 2.02, 1.99, 1.97, 1.98, 1.97, 1.98, 1.94, 2.04, 2.11, 2.06, 1.99, 1.97, 1.93,
    1.92, 1.90, 1.86, 1.94, 2.02, 2.04, 2.06, 1.97, 1.83, 1.78, 1.80, 1.90, 1.99, 1.92, 1.99, 1.94, 1.99, 1.92, 1.99, 2.04, 2.09, 2.13, 2.11, 2.12, 2.09, 2.13, 2.06, 2.15, 2.04, 1.97, 1.92, 1.99, 2.09, 2.20, 2.13, 2.04, 1.99, 1.92, 1.90, 1.83, 1.80, 1.90, 1.78, 1.76, 1.85, 1.90, 1.92, 1.85, 1.78, 1.73, 1.80, 1.79, 1.83, 1.85, 1.87, 1.90, 1.91, 1.87, 1.90, 1.85, 1.83, 1.81, 1.83, 1.85, 1.90, 1.92, 1.92, 1.90, 1.87, 1.83, 1.78, 1.80, 1.90, 2.04, 2.09, 2.13, 2.23, 2.16, 2.13, 2.09, 2.04, 1.99, 1.94, 1.90, 2.04, 2.06,
    1.92, 1.85, 1.79, 1.90, 1.97, 2.02, 1.99, 1.94, 1.87, 1.94, 1.99, 1.99, 1.92, 1.94, 1.87, 1.90, 1.94, 2.02, 2.09, 2.20, 2.25, 2.20, 2.13, 2.11, 2.04, 1.97, 1.94, 1.92, 1.87, 1.85, 1.73, 1.76, 1.90, 2.09, 2.17, 2.04, 2.06, 1.99, 1.90, 1.80, 1.85, 1.87, 1.90, 1.87, 1.88, 1.92, 1.92, 1.90, 1.83, 1.80, 1.76, 1.65, 1.76, 1.92, 2.04, 2.02, 1.90, 1.97, 1.99, 2.02, 2.04, 1.99, 2.04, 1.99, 1.94, 1.92, 1.94, 2.02, 2.13, 2.19, 2.13, 2.11, 2.09, 2.06, 2.02, 1.97, 1.94, 1.90, 1.85, 1.76, 1.90, 1.83, 1.76, 1.80, 1.90, 1.90,
    1.94, 1.90, 1.94, 1.87, 1.92, 1.92, 1.94, 1.96, 1.85, 1.76, 1.85, 1.94, 2.02, 2.11, 2.06, 1.99, 1.92, 1.87, 1.99, 2.02, 2.04, 2.09, 2.12, 2.09, 2.06, 2.04, 2.06, 2.02, 1.96, 2.12, 2.09, 2.06, 2.09, 2.02, 1.94, 1.90, 1.87, 1.80, 1.79, 1.85, 1.92, 1.87, 1.83, 1.85, 1.94, 2.10, 2.02, 1.97, 2.04, 1.94, 1.85, 1.80, 1.92, 1.92, 1.87, 1.80, 1.94, 1.85, 1.94, 2.02, 2.04, 1.94, 1.90, 1.94, 2.02, 2.04, 2.06, 2.10, 2.02, 1.87, 1.92, 1.85, 1.76, 1.78, 1.73, 1.79, 1.76, 1.80, 1.66, 1.87, 1.76, 1.71, 1.85, 1.90, 2.09, 1.99,
    1.85, 1.94, 1.90, 1.83, 1.76, 1.85, 1.80, 1.76, 1.73, 1.68, 1.67, 1.78, 1.90, 1.85, 1.71, 1.68, 1.87, 1.80, 1.73, 1.85, 1.97, 2.00, 2.02, 2.00, 1.99, 1.94, 1.92, 1.90, 1.94, 2.04, 2.13, 2.17, 2.15, 2.13, 2.02, 1.90, 1.83, 1.85, 1.87, 1.85, 1.87, 1.83, 1.90, 1.92, 1.99, 2.09, 2.18, 2.09, 1.99, 2.04, 1.99, 2.02, 2.04, 2.09, 2.06, 1.94, 1.85, 1.90, 1.94, 2.02, 2.04, 2.13, 2.11, 2.06, 2.02, 1.99, 1.97, 1.90, 1.87, 1.94, 2.02, 2.09, 2.13, 2.18, 2.09, 1.99, 2.11, 2.18, 2.09, 1.99, 1.90, 1.86, 1.90, 1.94, 1.99, 2.02, 1.99, 1.94, 1.99, 1.94, 1.97, 1.99, 2.04, 2.02, 2.18, 2.20]

year_ticks = [0, 365, 730]
year_labels = ['2007', '2008', '2009']
y_ticks = [1.5, 2, 2.5, 3, 3.5, 4]
y_labels = ['1.5', '2', '2.5', '3', '3.5', '4']

# ---------------- figure ----------------
FONT = ['Liberation Sans', 'DejaVu Sans']
plt.rcParams['font.family'] = FONT

fig = plt.figure(figsize=(12.12, 4.35), dpi=100)
ax = fig.add_axes([0.0458, 0.1051, 0.9375, 0.8103])

ax.plot(gpcp_day, gpcp_val, color='#ff0000', lw=0.9, label='GPCP 1DD')
ax.plot(b1_day, b1_val, color='#00ff00', lw=0.9, label='PERSIANN-B1')
ax.plot(cdr_day, cdr_val, color='#0000ff', lw=0.9, label='PERSIANN-CDR')

ax.set_xlim(year_ticks[0], year_ticks[-1])
ax.set_ylim(y_ticks[0], y_ticks[-1])
ax.set_xticks(year_ticks)
ax.set_xticklabels(year_labels)
ax.set_yticks(y_ticks)
ax.set_yticklabels(y_labels)
ax.tick_params(direction='in', length=6, width=0.8, top=True, right=True,
               labelsize=10, colors='#262626')
ax.tick_params(axis='x', pad=5)
ax.tick_params(axis='y', pad=3)
# the lowest y label sits slightly above its tick, as in the reference
lowest = ax.get_yticklabels()[0]
lowest.set_transform(lowest.get_transform() +
                     mtransforms.ScaledTranslation(0, 3 / 100, fig.dpi_scale_trans))
for s in ax.spines.values():
    s.set_color('#262626')
    s.set_linewidth(0.8)

ax.set_title('Global (60\u00b0S-60\u00b0N) Daily Mean Areal Precipitation (mm/day) '
             'from GPCP-1DD, PERSIANN-B1, and PERSIANN-CDR (2007-2009)',
             fontsize=14.8, pad=8, color='#000000')
ax.set_xlabel('Time (day)', fontsize=12, color='#262626', labelpad=0)
ax.set_ylabel('Mean Areal Precipitation (mm/day)', fontsize=13, color='#262626', labelpad=7)

leg = ax.legend(loc='upper right', fontsize=9.5, frameon=True, fancybox=False,
                handlelength=3.3, handletextpad=0.35, borderpad=0.5,
                labelspacing=0.62, borderaxespad=0.5)
leg.get_frame().set_edgecolor('#000000')
leg.get_frame().set_linewidth(0.8)

fig.savefig('out.png', dpi=100, facecolor='white')
